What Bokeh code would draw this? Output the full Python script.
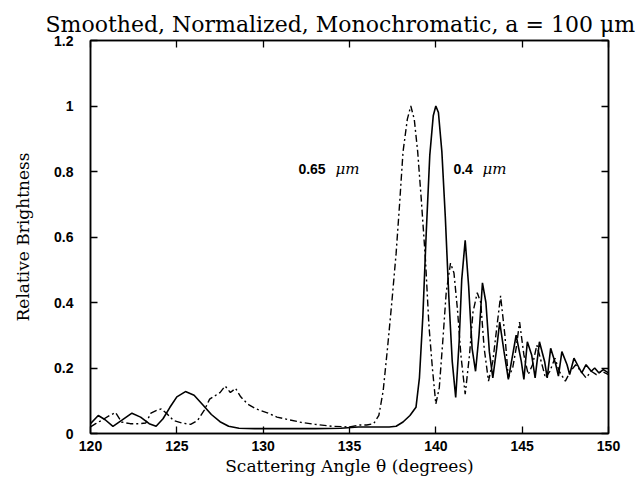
from bokeh.plotting import figure
from bokeh.models import Range1d, LinearAxis, FixedTicker, Label, Title
from bokeh.embed import file_html
from bokeh.resources import INLINE

# ---- data ----
title_text = "Smoothed, Normalized, Monochromatic, a = 100 \u03bcm"
x_label = "Scattering Angle \u03b8 (degrees)"
y_label = "Relative Brightness"

x_ticks = [120, 125, 130, 135, 140, 145, 150]
y_ticks = [0, 0.2, 0.4, 0.6, 0.8, 1.0, 1.2]
y_tick_labels = ["0", "0.2", "0.4", "0.6", "0.8", "1", "1.2"]

# 0.4 micron curve (solid)
ang_04 = [120.0, 120.45, 120.85, 121.3, 121.8, 122.4, 122.9, 123.4, 123.8, 124.2,
          124.6, 125.0, 125.5, 126.0, 126.5, 127.0, 127.5, 128.0, 128.6, 129.5,
          131.0, 133.0, 134.5, 135.5, 136.5, 137.3, 137.7, 138.1, 138.5, 138.85,
          139.05, 139.25, 139.45, 139.65, 139.85, 140.0, 140.15, 140.35, 140.55, 140.75,
          140.95, 141.15, 141.35, 141.5, 141.7, 141.9, 142.1, 142.3, 142.5, 142.7,
          142.9, 143.1, 143.3, 143.5, 143.7, 143.95, 144.2, 144.45, 144.65, 144.95,
          145.1, 145.3, 145.55, 145.75, 146.0, 146.3, 146.45, 146.65, 146.95, 147.1,
          147.3, 147.6, 147.75, 148.0, 148.3, 148.45, 148.7, 149.0, 149.2, 149.45,
          149.7, 150.0]
bright_04 = [0.030, 0.055, 0.042, 0.022, 0.040, 0.062, 0.050, 0.030, 0.022, 0.045,
             0.080, 0.112, 0.128, 0.117, 0.088, 0.058, 0.036, 0.022, 0.016, 0.015,
             0.015, 0.015, 0.016, 0.020, 0.020, 0.020, 0.022, 0.035, 0.055, 0.080,
             0.17, 0.36, 0.62, 0.85, 0.97, 1.0, 0.98, 0.86, 0.66, 0.42,
             0.22, 0.11, 0.28, 0.47, 0.59, 0.45, 0.26, 0.19, 0.30, 0.46,
             0.40, 0.25, 0.17, 0.25, 0.34, 0.25, 0.165, 0.24, 0.30, 0.22,
             0.165, 0.28, 0.24, 0.17, 0.28, 0.22, 0.17, 0.26, 0.21, 0.175,
             0.25, 0.21, 0.18, 0.23, 0.20, 0.185, 0.21, 0.19, 0.20, 0.185,
             0.195, 0.185]

# 0.65 micron curve (dash-dot)
ang_065 = [120.0, 120.3, 120.7, 121.1, 121.45, 121.8, 122.3, 122.8, 123.2, 123.5,
           123.8, 124.1, 124.4, 124.8, 125.3, 125.8, 126.2, 126.6, 126.9, 127.2,
           127.5, 127.8, 128.1, 128.4, 128.7, 129.1, 129.6, 130.2, 130.8, 131.5,
           132.2, 133.0, 134.0, 135.0, 135.6, 136.0, 136.4, 136.7, 136.95, 137.2,
           137.45, 137.7, 137.9, 138.1, 138.35, 138.55, 138.75, 138.95, 139.15, 139.4,
           139.6, 139.8, 140.0, 140.2, 140.4, 140.6, 140.85, 141.05, 141.25, 141.45,
           141.7, 141.95, 142.15, 142.4, 142.6, 142.8, 143.05, 143.3, 143.5, 143.75,
           144.0, 144.2, 144.45, 144.65, 144.85, 145.1, 145.35, 145.6, 145.85, 146.1,
           146.35, 146.6, 146.9, 147.15, 147.5, 147.8, 148.1, 148.4, 148.7, 149.0,
           149.3, 149.6, 150.0]
bright_065 = [0.020, 0.030, 0.042, 0.055, 0.064, 0.035, 0.030, 0.030, 0.032, 0.062,
              0.070, 0.075, 0.062, 0.040, 0.032, 0.028, 0.040, 0.072, 0.105, 0.115,
              0.125, 0.145, 0.125, 0.138, 0.112, 0.090, 0.075, 0.064, 0.050, 0.042,
              0.034, 0.028, 0.022, 0.020, 0.026, 0.026, 0.030, 0.055, 0.13, 0.26,
              0.40, 0.55, 0.70, 0.86, 0.96, 1.0, 0.96, 0.86, 0.72, 0.53,
              0.33, 0.20, 0.09, 0.14, 0.28, 0.43, 0.52, 0.49, 0.38, 0.24,
              0.12, 0.24, 0.37, 0.43, 0.40, 0.26, 0.16, 0.22, 0.31, 0.42,
              0.30, 0.17, 0.20, 0.26, 0.34, 0.24, 0.18, 0.21, 0.27, 0.22,
              0.17, 0.19, 0.23, 0.19, 0.16, 0.19, 0.21, 0.19, 0.17, 0.19,
              0.18, 0.19, 0.18]

# ---- figure ----
ttl = Title(text=title_text, align="left", text_font="DejaVu Serif",
            text_font_style="normal", text_font_size="22px", text_color="black",
            standoff=8, offset=-45)
p = figure(width=644, height=478, x_range=Range1d(120, 150), y_range=Range1d(0, 1.2),
           output_backend="svg", toolbar_location=None, title=ttl,
           min_border_left=90, min_border_right=36, min_border_top=40, min_border_bottom=45,
           x_axis_label=x_label, y_axis_label=y_label)
p.grid.visible = False
p.outline_line_color = "black"
p.outline_line_width = 1.5
p.background_fill_color = "white"
p.border_fill_color = "white"

for ax in p.xaxis:
    ax.ticker = FixedTicker(ticks=x_ticks)
for ax in p.yaxis:
    ax.ticker = FixedTicker(ticks=y_ticks)
    ax.major_label_overrides = {t: l for t, l in zip(y_ticks, y_tick_labels)}

for ax in list(p.xaxis) + list(p.yaxis):
    ax.axis_line_color = "black"
    ax.axis_line_width = 1.5
    ax.major_tick_in = 7
    ax.major_tick_out = 0
    ax.major_tick_line_width = 1.3
    ax.minor_tick_line_color = None
    ax.major_label_text_font = "Liberation Sans"
    ax.major_label_text_font_style = "bold"
    ax.major_label_text_font_size = "14px"
    ax.major_label_text_color = "black"
    ax.axis_label_text_font = "DejaVu Serif"
    ax.axis_label_text_font_style = "normal"
    ax.axis_label_text_font_size = "17px"
    ax.axis_label_text_color = "black"

p.xaxis.major_label_standoff = 7
p.xaxis.axis_label_standoff = 2
p.yaxis.major_label_standoff = 17
p.yaxis.axis_label_standoff = 18

top_ax = LinearAxis(ticker=FixedTicker(ticks=x_ticks), major_tick_in=7, major_tick_out=0,
                    major_label_text_color=None, major_label_standoff=0,
                    axis_line_width=1.5, major_tick_line_width=1.3,
                    minor_tick_line_color=None)
right_ax = LinearAxis(ticker=FixedTicker(ticks=y_ticks), major_tick_in=7, major_tick_out=0,
                      major_label_text_color=None, major_label_standoff=0,
                      axis_line_width=1.5, major_tick_line_width=1.3,
                      minor_tick_line_color=None)
p.add_layout(top_ax, "above")
p.add_layout(right_ax, "right")

p.line(ang_04, bright_04, line_color="black", line_width=1.6)
p.line(ang_065, bright_065, line_color="black", line_width=1.4, line_dash="7 3 2 3")

# curve annotations
lbl_y = 0.809
for xn, txt, xm in [(132.04, "0.65", 134.19), (141.02, "0.4", 142.70)]:
    p.add_layout(Label(x=xn, y=lbl_y, text=txt, text_align="left", text_baseline="alphabetic",
                       text_font="Liberation Sans", text_font_style="bold",
                       text_font_size="14px", text_color="black"))
    p.add_layout(Label(x=xm, y=lbl_y, text="\u03bcm", text_align="left", text_baseline="alphabetic",
                       text_font="DejaVu Serif", text_font_style="italic",
                       text_font_size="15px", text_color="black"))

open("out.html", "w").write(file_html(p, INLINE))
